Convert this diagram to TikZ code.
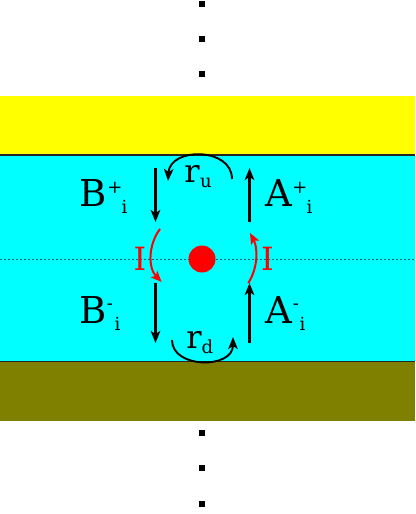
\documentclass[tikz,border=0pt]{standalone}
\usepackage{fontspec}
\setmainfont{DejaVu Serif}
\usetikzlibrary{arrows.meta}
\definecolor{bandyellow}{HTML}{FFFF00}
\definecolor{bandcyan}{HTML}{00FFFF}
\definecolor{bandolive}{HTML}{808000}
\begin{document}
\begin{tikzpicture}[x=1pt,y=-1pt,
  big/.style={font=\fontsize{37}{40}\selectfont, inner sep=0pt, anchor=base},
  mid/.style={font=\fontsize{32}{36}\selectfont, inner sep=0pt, anchor=base},
  small/.style={font=\fontsize{18}{20}\selectfont, inner sep=0pt, anchor=base},
  flow/.style={line width=2.2pt, -{Stealth[length=12pt,width=9.5pt,inset=3pt]}},
  redflow/.style={line width=2pt, red, -{Stealth[length=11pt,width=9pt,inset=2.5pt]}},
  vdot/.style={fill=black, minimum size=6pt, inner sep=0pt, shape=rectangle}]
\useasboundingbox (0,0) rectangle (415,514);
% bands
\fill[bandyellow] (0,96) rectangle (415,155);
\fill[bandcyan] (0,155) rectangle (415,361);
\fill[bandolive] (0,361) rectangle (415,421);
\draw[line width=1.2pt, black!85] (0,155) -- (415,155);
\draw[line width=1.2pt, black!85] (0,361.5) -- (415,361.5);
\draw[line width=0.9pt, black!60!bandcyan, dash pattern=on 2pt off 2pt] (0,259) -- (415,259);
% ellipsis dots
\node[vdot] (d1) at (202,3.5) {};
\node[vdot] (d2) at (202,39) {};
\node[vdot] (d3) at (202,74) {};
\node[vdot] (d4) at (202,433) {};
\node[vdot] (d5) at (202,468) {};
\node[vdot] (d6) at (202,504) {};
% centre
\fill[red] (202,259) circle (13.5);
% vertical arrows
\coordinate (bps) at (155.5,168); \coordinate (bpe) at (155.5,222);
\coordinate (bms) at (155.5,283); \coordinate (bme) at (155.5,343);
\coordinate (aps) at (249.5,222); \coordinate (ape) at (249.5,168);
\coordinate (ams) at (249.5,343); \coordinate (ame) at (249.5,283);
\draw[flow] (bps) -- (bpe);
\draw[flow] (bms) -- (bme);
\draw[flow] (aps) -- (ape);
\draw[flow] (ams) -- (ame);
% r arcs
\coordinate (rus) at (232,179); \coordinate (rue) at (168,181);
\coordinate (rds) at (172,340); \coordinate (rde) at (233,337);
\draw[flow, line width=1.9pt] (rus) .. controls (232,147) and (170,147) .. (rue);
\draw[flow, line width=1.9pt] (rds) .. controls (172,369) and (233,369) .. (rde);
% red arcs
\coordinate (ils) at (160,229); \coordinate (ile) at (161.7,282);
\coordinate (irs) at (248.3,283); \coordinate (ire) at (250,233);
\draw[redflow] (ils) .. controls (148,245) and (148,268) .. (ile);
\draw[redflow] (irs) .. controls (258,268) and (258,248) .. (ire);
% labels
\node[big] (Bp) at (93.5,206) {B};
\node[small] (Bpsup) at (115,193) {+};
\node[small] (Bpsub) at (124.5,213) {i};
\node[big] (Ap) at (278.5,206) {A};
\node[small] (Apsup) at (300,193) {+};
\node[small] (Apsub) at (309.5,213) {i};
\node[big] (Bm) at (93.5,323) {B};
\node[small] (Bmsup) at (110,309.5) {-};
\node[small] (Bmsub) at (117.5,330) {i};
\node[big] (Am) at (278.5,323) {A};
\node[small] (Amsup) at (296,309.5) {-};
\node[small] (Amsub) at (302.5,330) {i};
\node[mid] (ru) at (192,182) {r};
\node[small] (rusub) at (206,187) {u};
\node[mid] (rd) at (194,348) {r};
\node[small] (rdsub) at (207.5,353) {d};
\node[mid, red] (IL) at (140,270) {I};
\node[mid, red] (IR) at (267.5,270) {I};
\end{tikzpicture}
\end{document}
